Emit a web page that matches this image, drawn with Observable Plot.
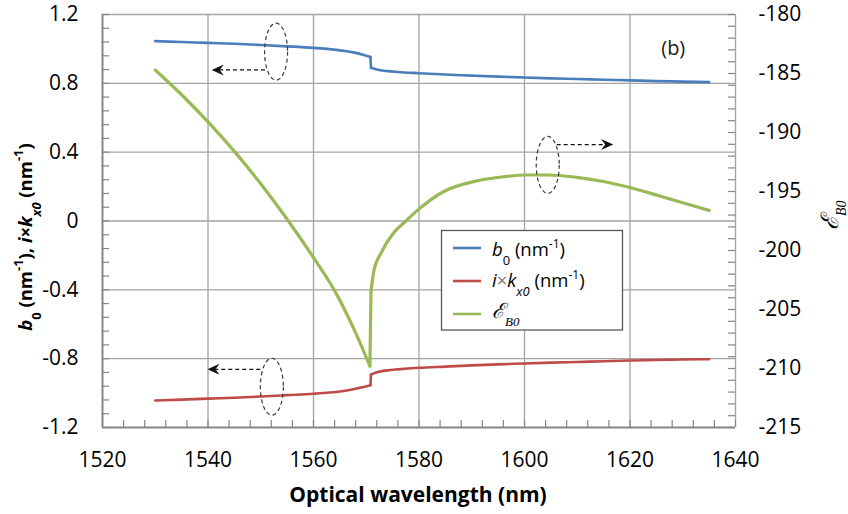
<!DOCTYPE html>
<html><head><meta charset="utf-8">
<script src="https://cdn.jsdelivr.net/npm/d3@7"></script>
<script src="https://cdn.jsdelivr.net/npm/@observablehq/plot@0.6"></script>
<style>
body{margin:0;background:#fff;}
#chart{width:848px;height:514px;}
svg text{font-family:'Open Sans',sans-serif;}
</style></head><body><div id="chart"></div>
<script>
// ---- data ----
const xTicks = [1520, 1540, 1560, 1580, 1600, 1620, 1640];
const leftTicks = [-1.2, -0.8, -0.4, 0, 0.4, 0.8, 1.2];
const rightTicks = [-215, -210, -205, -200, -195, -190, -185, -180];

const bWl = [1530,1535,1540,1545,1550,1555,1560,1563,1566,1568,1569.5,1570.8,1570.9,1572,1574,1576,1580,1585,1590,1595,1600,1605,1610,1615,1620,1625,1630,1635];
const b0  = [1.045,1.040,1.035,1.030,1.023,1.015,1.006,0.999,0.988,0.977,0.965,0.953,0.890,0.880,0.871,0.866,0.859,0.851,0.845,0.839,0.834,0.829,0.825,0.821,0.817,0.813,0.810,0.807];

const kWl = [1530,1535,1540,1545,1550,1555,1560,1563,1566,1568,1569.5,1570.8,1570.9,1572,1574,1576,1580,1585,1590,1595,1600,1605,1610,1615,1620,1625,1630,1635];
const ikx0 = [-1.043,-1.038,-1.032,-1.027,-1.020,-1.012,-1.004,-0.997,-0.986,-0.975,-0.964,-0.954,-0.892,-0.879,-0.868,-0.862,-0.853,-0.846,-0.839,-0.833,-0.828,-0.823,-0.819,-0.815,-0.811,-0.808,-0.805,-0.803];

const eWl = [1530,1535,1540,1545,1550,1555,1560,1564,1567.6,1570.7,1570.9,1571.5,1572.7,1575.2,1577.5,1579.7,1584.7,1591,1596,1600.5,1604.3,1609.9,1615,1619.4,1625.8,1630,1635];
const eB0 = [-184.7,-186.8,-189.1,-191.6,-194.35,-197.35,-200.6,-203.4,-206.6,-209.8,-203.4,-201.6,-200.3,-198.5,-197.5,-196.6,-195.0,-194.1,-193.75,-193.6,-193.6,-193.8,-194.15,-194.6,-195.4,-195.95,-196.6];

// annotation anchors in data coordinates
const ovals = [{x:1553.0, y:0.981}, {x:1552.2, y:-0.966}, {x:1604.5, y:0.323}];
const arrows = [{x1:1550.9, x2:1540.8, y:0.875}, {x1:1550.0, x2:1540.0, y:-0.865}, {x1:1606.2, x2:1616.9, y:0.441}];
const panel = [{x:1628.2, y:1.0, text:"(b)"}];

// ---- helpers ----
const rMin = -215, rMax = -180;
const toLeft = r => -1.2 + (r - rMin) * 2.4 / (rMax - rMin);
const toRight = v => rMin + (v + 1.2) * (rMax - rMin) / 2.4;

// split a series at its jump (two consecutive points with nearly equal x) into
// smooth part / vertical link / smooth part
function segments(xs, ys) {
  const pts = xs.map((x, i) => ({x, y: ys[i]}));
  const j = pts.findIndex((p, i) => i < pts.length - 1 && pts[i + 1].x - p.x < 0.5);
  const rows = [];
  pts.slice(0, j + 1).forEach(p => rows.push({...p, s: 0}));
  pts.slice(j, j + 2).forEach(p => rows.push({...p, s: 1}));
  pts.slice(j + 1).forEach(p => rows.push({...p, s: 2}));
  return rows;
}
const blue = segments(bWl, b0);
const red = segments(kWl, ikx0);
const green = segments(eWl, eB0.map(toLeft));

const W = 848, H = 514, mL = 102, mR = 113, mT = 14, mB = 87;
const iw = W - mL - mR, ih = H - mT - mB;
const tickLen = 7;
const leftMinor = d3.range(0, 31).map(i => -1.2 + i * 0.08);
const rightMinor = d3.range(rMin, rMax + 1).map(toLeft);
const xMinor = d3.range(1520, 1641, 4);

const gridC = "#a3a3a3", axisC = "#868686";
const cBlue = "#4A7EBB", cRed = "#BE4B48", cGreen = "#98B954";

const plot = Plot.plot({
  width: W, height: H, marginLeft: mL, marginRight: mR, marginTop: mT, marginBottom: mB,
  style: {fontFamily: "'Open Sans', sans-serif", fontSize: "21px", color: "#000", background: "#fff", overflow: "visible"},
  x: {domain: [1520, 1640]},
  y: {domain: [-1.2, 1.2]},
  marks: [
    Plot.ruleX(xTicks.slice(1), {stroke: gridC, strokeWidth: 1.3, strokeOpacity: 1}),
    Plot.ruleY(leftTicks.slice(1), {stroke: gridC, strokeWidth: 1.3, strokeOpacity: 1}),
    Plot.ruleY(leftMinor, {stroke: axisC, strokeWidth: 1.2, insetRight: iw - tickLen}),
    Plot.ruleY(rightMinor, {stroke: axisC, strokeWidth: 1.2, insetLeft: iw - tickLen}),
    Plot.ruleX(xMinor, {stroke: axisC, strokeWidth: 1.2, insetTop: ih - tickLen}),
    Plot.ruleX([1520], {stroke: axisC, strokeWidth: 2}),
    Plot.ruleY([-1.2], {stroke: axisC, strokeWidth: 2}),
    Plot.axisX({ticks: xTicks, tickSize: 0, tickPadding: 25, tickFormat: d => String(d), label: null, fontSize: 21}),
    Plot.axisY({anchor: "left", ticks: leftTicks, tickSize: 0, tickPadding: 24, tickFormat: d => d === 0 ? "0" : d.toFixed(1), label: null, fontSize: 21}),
    Plot.axisY({anchor: "right", ticks: rightTicks.map(toLeft), tickSize: 0, tickPadding: 23, tickFormat: d => String(Math.round(toRight(d))), label: null, fontSize: 21}),
    Plot.line(blue, {x: "x", y: "y", z: "s", stroke: cBlue, strokeWidth: 2.6, curve: "monotone-x"}),
    Plot.line(red, {x: "x", y: "y", z: "s", stroke: cRed, strokeWidth: 2.6, curve: "monotone-x"}),
    Plot.line(green, {x: "x", y: "y", z: "s", stroke: cGreen, strokeWidth: 3.2, curve: "monotone-x"}),
    Plot.text(panel, {x: "x", y: "y", text: "text", fontSize: 20, fill: "#1a1a1a"})
  ]
});
document.getElementById("chart").appendChild(plot);

const svg = d3.select(plot);
const sx = plot.scale("x"), sy = plot.scale("y");
const ann = svg.append("g");
ovals.forEach(o => {
  ann.append("ellipse").attr("cx", sx.apply(o.x)).attr("cy", sy.apply(o.y))
    .attr("rx", 11.5).attr("ry", 28.5).attr("fill", "none")
    .attr("stroke", "#3a3a3a").attr("stroke-width", 1.2).attr("stroke-dasharray", "4,3");
});
arrows.forEach(a => {
  const x1 = sx.apply(a.x1), x2 = sx.apply(a.x2), y = sy.apply(a.y);
  const dir = Math.sign(x2 - x1);
  const L = 12, hw = 5.5, notch = 4;
  ann.append("line").attr("x1", x1).attr("x2", x2 - dir * (L - notch)).attr("y1", y).attr("y2", y)
    .attr("stroke", "#111").attr("stroke-width", 1.2).attr("stroke-dasharray", "4,3");
  ann.append("path")
    .attr("d", `M${x2},${y} L${x2 - dir * L},${y - hw} L${x2 - dir * (L - notch)},${y} L${x2 - dir * L},${y + hw} Z`)
    .attr("fill", "#111");
});

function addParts(t, parts) {
  parts.forEach(([s, at]) => { const sp = t.append("tspan").text(s); Object.entries(at).forEach(([k, v]) => sp.attr(k, v)); });
}

// axis titles
svg.append("text").attr("x", 418).attr("y", 502).attr("text-anchor", "middle")
  .attr("font-weight", "bold").attr("font-size", 21).text("Optical wavelength (nm)");

const lt = svg.append("text").attr("transform", "translate(32,237) rotate(-90)")
  .attr("text-anchor", "middle").attr("font-weight", "bold").attr("font-size", 18.5);
addParts(lt, [
  ["b", {"font-style": "italic"}], ["0", {"baseline-shift": "sub", "font-size": "70%"}], [" (nm", {}],
  ["-1", {"baseline-shift": "super", "font-size": "70%"}], ["), ", {}],
  ["i", {"font-style": "italic"}], ["×", {}], ["k", {"font-style": "italic"}],
  ["x0", {"baseline-shift": "sub", "font-size": "70%", "font-style": "italic"}], [" (nm", {}],
  ["-1", {"baseline-shift": "super", "font-size": "70%"}], [")", {}]
]);

const rt = svg.append("text").attr("transform", "translate(838,230) rotate(-90)")
  .attr("text-anchor", "start").attr("font-size", 24).attr("font-style", "italic");
addParts(rt, [
  ["ℰ", {"font-family": "'DejaVu Serif',serif"}],
  ["B0", {"baseline-shift": "sub", "font-size": "58%", "font-family": "'Liberation Serif',serif"}]
]);

// legend
const lg = svg.append("g");
lg.append("rect").attr("x", 441.5).attr("y", 230.5).attr("width", 181).attr("height", 99.5)
  .attr("fill", "#fff").attr("stroke", "#595959").attr("stroke-width", 1.3);
const entries = [
  {c: cBlue, ly: 248, ty: 256, parts: [["b", {"font-style": "italic"}], ["0", {"baseline-shift": "sub", "font-size": "70%"}], [" (nm", {}], ["-1", {"baseline-shift": "super", "font-size": "65%"}], [")", {}]]},
  {c: cRed, ly: 281, ty: 287, parts: [["i", {"font-style": "italic"}], ["×", {"fill": "#777"}], ["k", {"font-style": "italic"}], ["x0", {"baseline-shift": "sub", "font-size": "70%", "font-style": "italic"}], [" (nm", {}], ["-1", {"baseline-shift": "super", "font-size": "65%"}], [")", {}]]},
  {c: cGreen, ly: 314, ty: 318, parts: [["ℰ", {"font-style": "italic", "font-family": "'DejaVu Serif',serif", "font-size": "21px"}], ["B0", {"baseline-shift": "sub", "font-size": "70%", "font-style": "italic", "font-family": "'Liberation Serif',serif"}]]}
];
entries.forEach(e => {
  lg.append("line").attr("x1", 453).attr("x2", 481).attr("y1", e.ly).attr("y2", e.ly).attr("stroke", e.c).attr("stroke-width", 2.6);
  const t = lg.append("text").attr("x", 492).attr("y", e.ty).attr("font-size", 18.5).attr("text-anchor", "start");
  addParts(t, e.parts);
});
</script></body></html>
